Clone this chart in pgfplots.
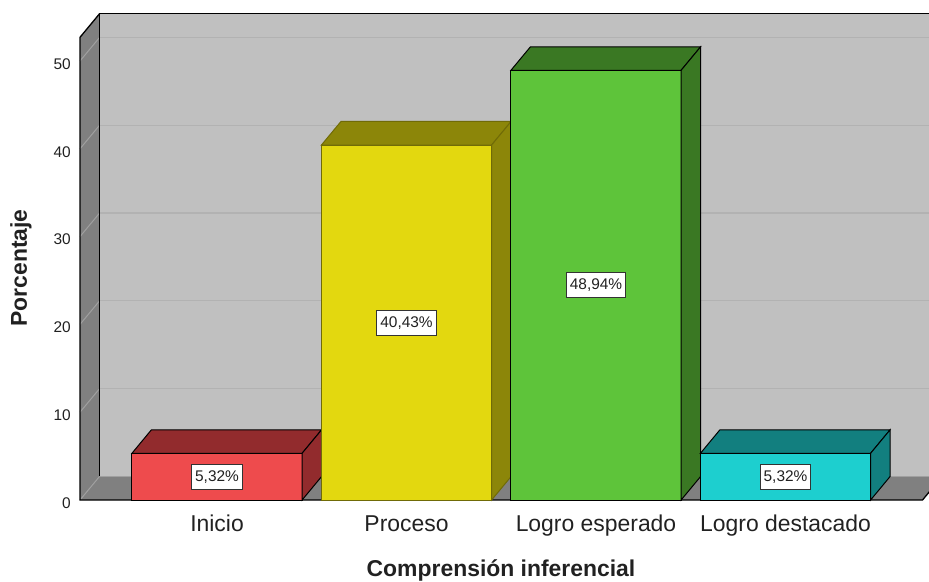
\documentclass[border=0pt]{standalone}
\usepackage{pgfplots}
\pgfplotsset{compat=1.18}
\usepackage{fontspec}
\setmainfont{Liberation Sans}
\definecolor{wallback}{HTML}{C0C0C0}
\definecolor{wallside}{HTML}{808080}
\definecolor{gridc}{HTML}{B2B2B2}
\definecolor{gridside}{HTML}{A0A0A0}
\definecolor{redf}{HTML}{EE4B4D}
\definecolor{redd}{HTML}{922B2D}
\definecolor{yelf}{HTML}{E3D80F}
\definecolor{yeld}{HTML}{8C8609}
\definecolor{grnf}{HTML}{5EC43A}
\definecolor{grnd}{HTML}{3A7823}
\definecolor{cyaf}{HTML}{1DCFCF}
\definecolor{cyad}{HTML}{127F7F}
\definecolor{txt}{HTML}{212121}
\begin{document}
\begin{tikzpicture}
\begin{axis}[
  scale only axis,
  width=929bp, height=582bp,
  xmin=-1.1452, xmax=3.7572,
  ymin=-9.339, ymax=56.948,
  axis line style={draw=none},
  tick style={draw=none},
  /pgf/number format/assume math mode=true,
  xtick={0,1,2,3},
  xticklabels={Inicio,Proceso,Logro esperado,Logro destacado},
  xticklabel style={anchor=base, yshift=50bp, font=\fontsize{23}{27}\selectfont, text=txt},
  ytick={0,10,20,30,40,50},
  yticklabel style={anchor=east, xshift=71bp, yshift=-3bp, inner sep=0pt, font=\fontsize{15.5}{18}\selectfont, text=txt},
  clip=true,
]
% back wall
\addplot[fill=wallback, draw=none] coordinates {(-0.620,2.68) (3.826,2.68) (3.826,55.38) (-0.620,55.38)} -- cycle;
% grid lines on back wall
\addplot[gridc, line width=1.2bp] coordinates {(-0.620,12.68) (3.826,12.68)};
\addplot[gridc, line width=1.2bp] coordinates {(-0.620,22.68) (3.826,22.68)};
\addplot[gridc, line width=1.2bp] coordinates {(-0.620,32.68) (3.826,32.68)};
\addplot[gridc, line width=1.2bp] coordinates {(-0.620,42.68) (3.826,42.68)};
\addplot[gridc, line width=1.2bp] coordinates {(-0.620,52.68) (3.826,52.68)};
% side wall and floor
\addplot[fill=wallside, draw=none] coordinates {(-0.723,0) (-0.723,52.7) (-0.620,55.38) (-0.620,2.68)} -- cycle;
\addplot[fill=wallside, draw=none] coordinates {(-0.723,0) (3.723,0) (3.826,2.68) (-0.620,2.68)} -- cycle;
% side grid diagonals
\addplot[gridside, line width=1bp] coordinates {(-0.723,0) (-0.620,2.68)};
\addplot[gridside, line width=1bp] coordinates {(-0.723,10) (-0.620,12.68)};
\addplot[gridside, line width=1bp] coordinates {(-0.723,20) (-0.620,22.68)};
\addplot[gridside, line width=1bp] coordinates {(-0.723,30) (-0.620,32.68)};
\addplot[gridside, line width=1bp] coordinates {(-0.723,40) (-0.620,42.68)};
\addplot[gridside, line width=1bp] coordinates {(-0.723,50) (-0.620,52.68)};
\addplot[gridside, line width=1bp] coordinates {(-0.620,2.68) (3.826,2.68)};
% outlines
\addplot[black, line width=1.3bp] coordinates {(-0.620,2.68) (-0.620,55.38) (3.9,55.38)};
\addplot[black, line width=1.3bp] coordinates {(3.826,2.68) (3.723,0) (-0.723,0) (-0.723,52.7) (-0.620,55.38)};
% bar 1: Inicio
\addplot[fill=redf, draw=black, line width=1bp] coordinates {(-0.449,0) (0.449,0) (0.449,5.32) (-0.449,5.32)} -- cycle;
\addplot[fill=redd, draw=black, line width=1bp] coordinates {(-0.449,5.32) (0.449,5.32) (0.552,8.00) (-0.346,8.00)} -- cycle;
\addplot[fill=redd, draw=black, line width=1bp] coordinates {(0.449,0) (0.552,2.68) (0.552,8.00) (0.449,5.32)} -- cycle;
% bar 2: Proceso
\addplot[fill=yelf, draw=yeld!80!black, line width=1bp] coordinates {(0.551,0) (1.449,0) (1.449,40.43) (0.551,40.43)} -- cycle;
\addplot[fill=yeld, draw=yeld!80!black, line width=1bp] coordinates {(0.551,40.43) (1.449,40.43) (1.552,43.11) (0.654,43.11)} -- cycle;
\addplot[fill=yeld, draw=yeld!80!black, line width=1bp] coordinates {(1.449,0) (1.552,2.68) (1.552,43.11) (1.449,40.43)} -- cycle;
% bar 3: Logro esperado
\addplot[fill=grnf, draw=black, line width=1bp] coordinates {(1.551,0) (2.449,0) (2.449,48.94) (1.551,48.94)} -- cycle;
\addplot[fill=grnd, draw=black, line width=1bp] coordinates {(1.551,48.94) (2.449,48.94) (2.552,51.62) (1.654,51.62)} -- cycle;
\addplot[fill=grnd, draw=black, line width=1bp] coordinates {(2.449,0) (2.552,2.68) (2.552,51.62) (2.449,48.94)} -- cycle;
% bar 4: Logro destacado
\addplot[fill=cyaf, draw=black, line width=1bp] coordinates {(2.551,0) (3.449,0) (3.449,5.32) (2.551,5.32)} -- cycle;
\addplot[fill=cyad, draw=black, line width=1bp] coordinates {(2.551,5.32) (3.449,5.32) (3.552,8.00) (2.654,8.00)} -- cycle;
\addplot[fill=cyad, draw=black, line width=1bp] coordinates {(3.449,0) (3.552,2.68) (3.552,8.00) (3.449,5.32)} -- cycle;
% value labels
\tikzset{vlab/.style={draw=black!80, fill=white, line width=1bp, inner xsep=3.5bp, inner ysep=5.5bp, text height=11.5bp, text depth=2.5bp, font=\fontsize{15.5}{18}\selectfont, text=txt}}
\node[vlab] at (axis cs:0,2.66) {5,32\%};
\node[vlab] at (axis cs:1,20.2) {40,43\%};
\node[vlab] at (axis cs:2,24.47) {48,94\%};
\node[vlab] at (axis cs:3,2.66) {5,32\%};
% axis titles
\node[rotate=90, font=\fontsize{23}{27}\selectfont\bfseries, text=txt] at (rel axis cs:0.0226,0.5395) {Porcentaje};
\node[overlay, anchor=base, font=\fontsize{23}{27}\selectfont\bfseries, text=txt] at (rel axis cs:0.5393,0.0086) {Comprensión inferencial};
\end{axis}
\end{tikzpicture}
\end{document}
